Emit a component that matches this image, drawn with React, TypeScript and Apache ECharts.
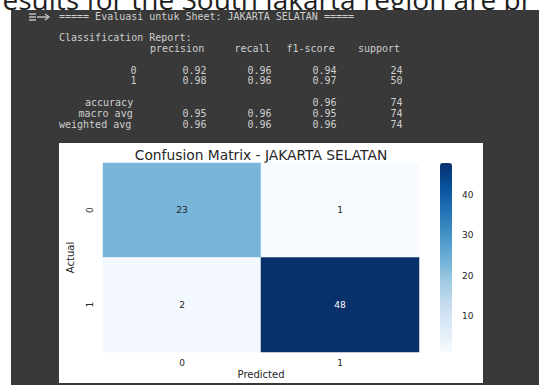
import React, { useEffect, useRef } from "react";
import * as echarts from "echarts";

// ---- data ----
const classes = ["0", "1"];
const matrix = [
  [23, 1],
  [2, 48],
];
const colorbarTicks = [10, 20, 30, 40];
const colorMin = 1;
const colorMax = 48;

const reportClasses = ["0", "1"];
const precision = [0.92, 0.98];
const recall = [0.96, 0.96];
const f1Score = [0.94, 0.97];
const support = [24, 50];
const accuracy = 0.96;
const totalSupport = 74;
const macroAvg = [0.95, 0.96, 0.95];
const weightedAvg = [0.96, 0.96, 0.96];

const sheetName = "JAKARTA SELATAN";
const topText = "results for the South Jakarta region are pr";

const blues = [
  "#f7fbff",
  "#deebf7",
  "#c6dbef",
  "#9ecae1",
  "#6baed6",
  "#4292c6",
  "#2171b5",
  "#08519c",
  "#08306b",
];

// ---- report lines (sklearn format) ----
function fmtRow(name: string, vals: (number | string)[], sup: number) {
  let s = name.padStart(12) + " ";
  vals.forEach((v) => {
    const t = typeof v === "number" ? v.toFixed(2) : v;
    s += " " + t.padStart(9);
  });
  s += " " + String(sup).padStart(9);
  return s;
}

const reportLines: string[] = [
  `===== Evaluasi untuk Sheet: ${sheetName} =====`,
  "",
  "Classification Report:",
  " ".repeat(12) + " " + ["precision", "recall", "f1-score", "support"].map((h) => " " + h.padStart(9)).join(""),
  "",
  ...reportClasses.map((c, i) => fmtRow(c, [precision[i], recall[i], f1Score[i]], support[i])),
  "",
  fmtRow("accuracy", ["", "", accuracy], totalSupport),
  fmtRow("macro avg", macroAvg, totalSupport),
  fmtRow("weighted avg", weightedAvg, totalSupport),
];

export default function App() {
  const ref = useRef<HTMLDivElement>(null);

  useEffect(() => {
    if (!ref.current) return;
    const chart = echarts.init(ref.current, undefined, { renderer: "svg" });

    const charW = 6.5;
    const x0 = 59;
    const y0 = 16;
    const lineH = 10.8;
    const reportEls: any[] = [];
    reportLines.forEach((line, li) => {
      const re = /\S+( \S+)*/g;
      let m: RegExpExecArray | null;
      while ((m = re.exec(line))) {
        reportEls.push({
          type: "text",
          x: x0 + m.index * charW,
          y: y0 + li * lineH,
          z: -5,
          style: {
            text: m[0],
            fill: "#cfcfcf",
            font: "10px 'DejaVu Sans Mono'",
            textVerticalAlign: "middle",
          },
        });
      }
    });

    const heatData: any[] = [];
    matrix.forEach((row, r) => {
      row.forEach((v, c) => {
        const norm = (v - colorMin) / (colorMax - colorMin);
        heatData.push({
          value: [c, r, v],
          label: { color: norm > 0.6 ? "#ffffff" : "#262626" },
        });
      });
    });

    const iconColor = "#bdbdbd";

    chart.setOption({
      animation: false,
      textStyle: { fontFamily: "DejaVu Sans" },
      graphic: [
        {
          type: "text",
          x: -9,
          y: 13,
          z: -10,
          style: {
            text: topText,
            fill: "#1f1f1f",
            font: "28px 'Open Sans'",
            textVerticalAlign: "bottom",
          },
        },
        { type: "rect", z: -9, shape: { x: 0, y: 10, width: 539, height: 375 }, style: { fill: "#ffffff" } },
        { type: "rect", z: -8, shape: { x: 11, y: 10, width: 528, height: 375 }, style: { fill: "#393939" } },
        { type: "rect", z: -7, shape: { x: 59, y: 143, width: 424, height: 240 }, style: { fill: "#ffffff" } },
        { type: "line", z: -5, shape: { x1: 29, y1: 14, x2: 36, y2: 14 }, style: { stroke: iconColor, lineWidth: 1.5 } },
        { type: "line", z: -5, shape: { x1: 29, y1: 17, x2: 36, y2: 17 }, style: { stroke: iconColor, lineWidth: 1.5 } },
        { type: "line", z: -5, shape: { x1: 29, y1: 20, x2: 36, y2: 20 }, style: { stroke: iconColor, lineWidth: 1.5 } },
        { type: "line", z: -5, shape: { x1: 37, y1: 17, x2: 49, y2: 17 }, style: { stroke: iconColor, lineWidth: 1.5 } },
        { type: "polyline", z: -5, shape: { points: [[45, 14], [49, 17], [45, 20]] }, style: { stroke: iconColor, lineWidth: 1.5, fill: null } },
        ...reportEls,
        {
          type: "text",
          x: 261,
          y: 155,
          z: -5,
          style: {
            text: `Confusion Matrix - ${sheetName}`,
            fill: "#262626",
            font: "13.8px 'DejaVu Sans'",
            textAlign: "center",
            textVerticalAlign: "middle",
          },
        },
      ],
      grid: [
        { left: 103, top: 163, width: 316, height: 189 },
        { left: 440, top: 163, width: 12, height: 189 },
      ],
      xAxis: [
        {
          type: "category",
          gridIndex: 0,
          data: classes,
          position: "bottom",
          axisLine: { show: false },
          axisTick: { alignWithLabel: true, length: 4, lineStyle: { color: "#333" } },
          axisLabel: { fontSize: 9, color: "#262626", margin: 6 },
          splitLine: { show: false },
          name: "Predicted",
          nameLocation: "middle",
          nameGap: 17,
          nameTextStyle: { fontSize: 10, color: "#262626", verticalAlign: "top" },
        },
        { type: "value", gridIndex: 1, show: false, min: 0, max: 1 },
      ],
      yAxis: [
        {
          type: "category",
          gridIndex: 0,
          data: classes,
          inverse: true,
          axisLine: { show: false },
          axisTick: { alignWithLabel: true, length: 4, lineStyle: { color: "#333" } },
          axisLabel: { fontSize: 9, color: "#262626", margin: 9, rotate: 90 },
          splitLine: { show: false },
          name: "Actual",
          nameLocation: "middle",
          nameGap: 28,
          nameTextStyle: { fontSize: 10, color: "#262626" },
        },
        {
          type: "value",
          gridIndex: 1,
          min: colorMin,
          max: colorMax,
          position: "right",
          axisLine: { show: false },
          splitLine: { show: false },
          axisTick: { show: true, length: 4, customValues: colorbarTicks, lineStyle: { color: "#333" } },
          axisLabel: { fontSize: 9, color: "#262626", margin: 10, customValues: colorbarTicks },
        },
      ],
      visualMap: {
        type: "continuous",
        seriesIndex: 0,
        min: colorMin,
        max: colorMax,
        orient: "vertical",
        left: 440,
        top: 163,
        itemWidth: 12,
        itemHeight: 189,
        padding: 0,
        calculable: false,
        hoverLink: false,
        inRange: { color: blues },
      },
      series: [
        {
          type: "heatmap",
          xAxisIndex: 0,
          yAxisIndex: 0,
          data: heatData,
          label: {
            show: true,
            fontSize: 9,
            fontFamily: "DejaVu Sans",
            formatter: (p: any) => String(p.value[2]),
          },
          itemStyle: { borderWidth: 0 },
          emphasis: { disabled: true },
        },
        { type: "line", xAxisIndex: 1, yAxisIndex: 1, data: [], silent: true },
      ],
    });

    return () => chart.dispose();
  }, []);

  return (
    <div
      ref={ref}
      style={{ position: "absolute", left: 0, top: 0, width: 539, height: 385 }}
    />
  );
}
